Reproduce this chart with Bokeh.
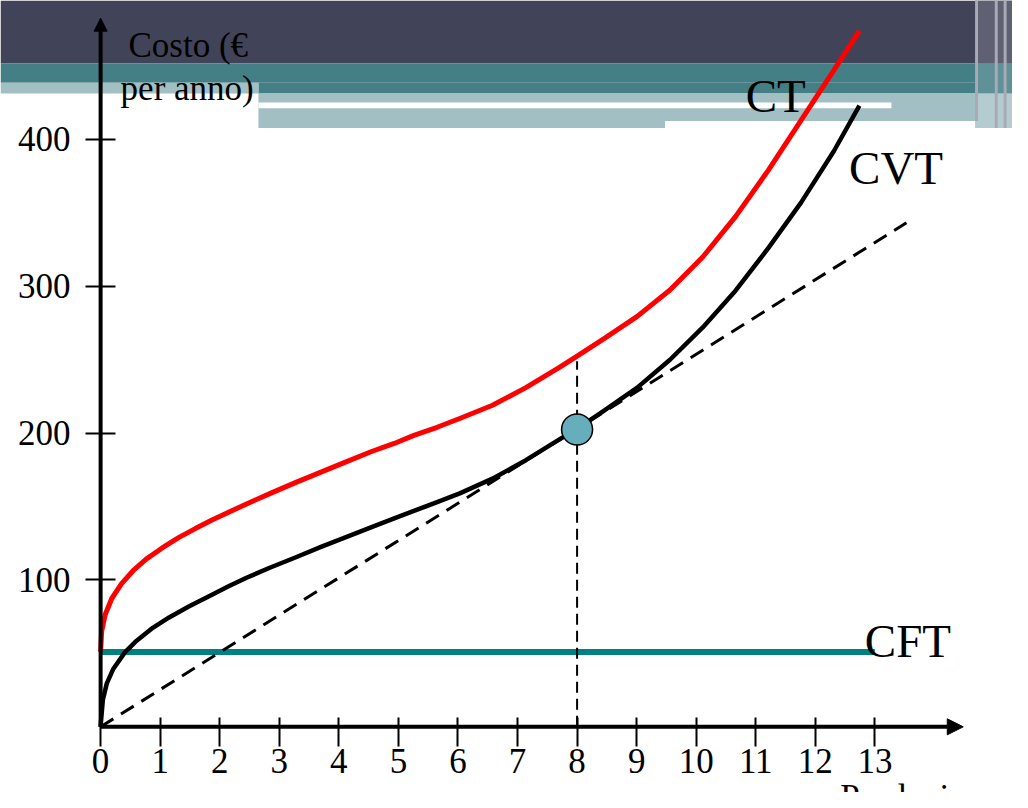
from bokeh.plotting import figure
from bokeh.models import Range1d, LinearAxis, FixedTicker, Arrow, NormalHead
from bokeh.core.properties import value
from bokeh.embed import file_html
from bokeh.resources import INLINE

# ---------------- data ----------------
cvt_x = [0, 0.005, 0.038, 0.104, 0.215, 0.407, 0.6, 0.876, 1.15, 1.48, 1.87, 2.14,
         2.45, 2.85, 3.28, 3.7, 4.11, 4.55, 4.93, 5.26, 5.65, 6.03, 6.58, 7.14,
         7.69, 8.0, 8.46, 9.01, 9.56, 10.11, 10.66, 11.21, 11.76, 12.31, 12.74]
cvt_y = [0, 3, 18.5, 29.6, 39.6, 50.7, 58.5, 67.4, 74.5, 82, 90, 95.5,
         101.5, 108.5, 115.5, 122.5, 129, 136, 142, 147, 153, 159, 169, 181.6,
         195.4, 203, 215.5, 231, 250, 272, 297, 326, 357, 392, 423]

ct_x = [0, 0.017, 0.076, 0.187, 0.352, 0.545, 0.765, 1.04, 1.316, 1.59, 1.87, 2.14,
        2.45, 2.85, 3.28, 3.7, 4.11, 4.55, 4.93, 5.26, 5.65, 6.03, 6.58, 7.14,
        7.69, 8.0, 8.46, 9.01, 9.56, 10.11, 10.66, 11.21, 11.76, 12.31, 12.74]
ct_y = [51, 65, 76.3, 87.4, 97.5, 106.3, 114.2, 122, 129, 135, 140.8, 146,
        151.8, 159, 166.5, 173.5, 180.3, 187.5, 193, 198.5, 204, 210, 219, 231,
        244.5, 252.5, 264.5, 279.5, 297.5, 320, 347.5, 379, 413, 447, 474]

cft_x = [0, 13]
cft_y = [51, 51]

tangent_x = [0, 13.53]
tangent_y = [0, 343.3]

guide_x = [8, 8]
guide_y = [0, 249]

point_x = [8]
point_y = [202.5]

x_ticks = list(range(0, 14))
y_ticks = [100, 200, 300, 400]

curve_labels = ["CT", "CVT", "CFT"]
y_title = ["Costo (€", "per anno)"]
x_title = "Produzione"

# ---------------- layout helpers (reference pixels -> data) ----------------
W, H = 1012, 792
X0, XS = 101.7, 60.5     # reference px of x=0, px per unit
Y0, YS = 741.0, 1.498    # reference px of y=0, px per unit


def dx(px):
    return (px - X0) / XS


def dy(py):
    return (Y0 - py) / YS


FONT = "Liberation Serif"

p = figure(width=W, height=H,
           x_range=Range1d(dx(0), dx(1028)),
           y_range=Range1d(dy(808), dy(0)),
           output_backend="svg", toolbar_location=None,
           x_axis_location=None, y_axis_location=None,
           min_border=0, outline_line_color=None,
           background_fill_color="white", border_fill_color="white")
p.min_border_left = p.min_border_right = p.min_border_top = p.min_border_bottom = 0
p.grid.visible = False

# ---------------- slide decoration ----------------
decor = [
    (0, 1028, 0, 64, "#414358"),
    (0, 1028, 64, 84, "#447f86"),
    (262, 1028, 84, 95, "#447f86"),
    (0, 262, 84, 95, "#a2bfc4"),
    (262, 1010, 95, 123, "#a2bfc4"),
    (262, 675, 123, 130, "#a2bfc4"),
    (262, 905, 104, 110, "#ffffff"),
    (990, 1028, 0, 64, "#5f6072"),
    (990, 1028, 64, 95, "#5e9198"),
    (990, 1028, 95, 130, "#b4cbcf"),
    (990, 993, 0, 123, "#a9aab5"),
    (1010, 1013, 0, 130, "#a9aab5"),
    (1019, 1022, 0, 130, "#a9aab5"),
]
p.quad(left=[dx(d[0]) for d in decor], right=[dx(d[1]) for d in decor],
       top=[dy(d[2]) for d in decor], bottom=[dy(d[3]) for d in decor],
       fill_color=[d[4] for d in decor], line_color=None)

# ---------------- curves ----------------
p.line(cft_x, cft_y, line_color="#008080", line_width=6)
p.line(tangent_x, tangent_y, line_color="black", line_width=3, line_dash="15 9")
p.line(cvt_x, cvt_y, line_color="black", line_width=4.5, line_join="round")
p.line(ct_x, ct_y, line_color="#ff0000", line_width=5, line_join="round")
p.line(guide_x, guide_y, line_color="black", line_width=2, line_dash="11 6")
p.scatter(point_x, point_y, size=31, fill_color="#66aebc", line_color="black",
          line_width=1.5)

# ---------------- axes ----------------
xaxis = LinearAxis(fixed_location=0, ticker=FixedTicker(ticks=x_ticks))
xaxis.axis_line_color = None
xaxis.major_tick_in = 9
xaxis.major_tick_out = 20
xaxis.major_tick_line_width = 2
xaxis.minor_tick_line_color = None
xaxis.major_label_standoff = 2
xaxis.major_label_text_font = FONT
xaxis.major_label_text_font_size = "35px"
xaxis.major_label_text_color = "black"
p.add_layout(xaxis, "below")

yaxis = LinearAxis(fixed_location=0, ticker=FixedTicker(ticks=y_ticks))
yaxis.axis_line_color = None
yaxis.major_tick_in = 15
yaxis.major_tick_out = 15
yaxis.major_tick_line_width = 2
yaxis.minor_tick_line_color = None
yaxis.major_label_standoff = 15
yaxis.major_label_text_font = FONT
yaxis.major_label_text_font_size = "35px"
yaxis.major_label_text_color = "black"
p.add_layout(yaxis, "left")

p.add_layout(Arrow(end=NormalHead(size=16, fill_color="black", line_color="black"),
                   x_start=0, y_start=0, x_end=dx(978), y_end=0,
                   line_color="black", line_width=4))
p.add_layout(Arrow(end=NormalHead(size=13, fill_color="black", line_color="black"),
                   x_start=0, y_start=0, x_end=0, y_end=dy(18),
                   line_color="black", line_width=4))

# ---------------- texts ----------------
p.text(x=[dx(757), dx(862), dx(878)], y=[dy(97), dy(171), dy(653)],
       text=curve_labels, text_font=value(FONT), text_font_size="47px",
       text_color="black", text_align="left", text_baseline="alphabetic")
p.text(x=[dx(130), dx(122)], y=[dy(46), dy(90)], text=y_title,
       text_font=value(FONT), text_font_size="35px", text_color="black",
       text_align="left", text_baseline="alphabetic")
p.text(x=[dx(853)], y=[dy(813)], text=[x_title],
       text_font=value(FONT), text_font_size="35px", text_color="black",
       text_align="left", text_baseline="alphabetic")

open("out.html", "w").write(file_html(p, INLINE))
